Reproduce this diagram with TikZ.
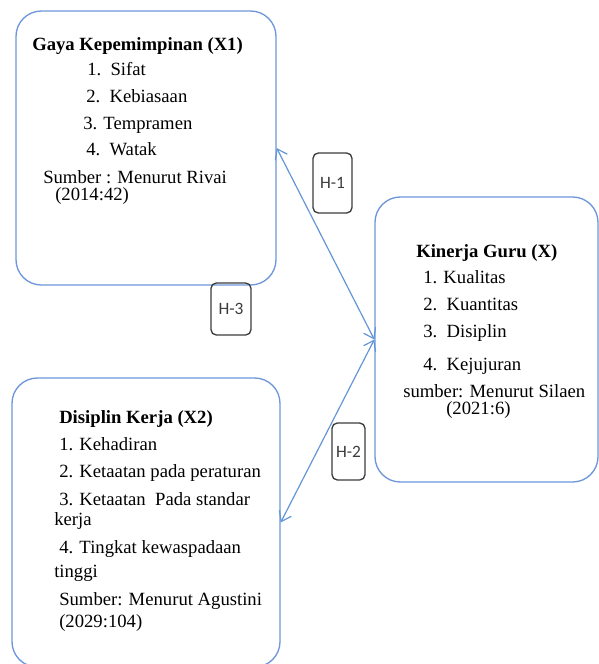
\documentclass[tikz,border=0pt]{standalone}
\usepackage{fontspec}
\setmainfont{Liberation Serif}
\newfontfamily\hfont{Carlito}
\usetikzlibrary{arrows.meta}
\definecolor{boxblue}{RGB}{110,150,218}
\definecolor{hgray}{RGB}{60,60,60}
\definecolor{arrblue}{RGB}{100,150,215}
\tikzset{
  bluebox/.style={draw=boxblue, line width=1pt, rounded corners=19pt, inner sep=0pt},
  hbox/.style={draw=hgray, line width=1pt, rounded corners=4pt, inner sep=0pt, font=\hfont\fontsize{13}{15}\selectfont, text=hgray},
  txt/.style={anchor=base west, inner sep=0pt, font=\fontsize{14}{16}\selectfont},
  btxt/.style={txt, font=\fontsize{14}{16}\selectfont\bfseries},
  arr/.style={draw=arrblue, line width=0.9pt, {Straight Barb[length=7pt,width=10pt]}-{Straight Barb[length=7pt,width=10pt]}}
}
\begin{document}
\begin{tikzpicture}[x=0.75pt,y=-0.75pt]
\useasboundingbox (0,0) rectangle (599,664);
% boxes
\node[bluebox, minimum width=195pt, minimum height=205.5pt] (b1) at (146,148) {};
\node[bluebox, minimum width=167.25pt, minimum height=213.75pt] (kin) at (486.5,339.5) {};
\node[bluebox, minimum width=201pt, minimum height=216.75pt] (b3) at (146,522.5) {};
% connectors
\draw[arr] (b1.east) -- (kin.west);
\draw[arr] (kin.west) -- (b3.east);
% H labels
\node[hbox, minimum width=29.25pt, minimum height=45pt] (h1) at (332.5,183) {H-1};
\node[hbox, minimum width=30pt, minimum height=39pt] (h3) at (231,309) {H-3};
\node[hbox, minimum width=24.75pt, minimum height=42.75pt] (h2) at (348.5,451.5) {H-2};
% box 1 text
\node[btxt] (t1a) at (32,50) {Gaya Kepemimpinan (X1)};
\node[txt] (t1b) at (87,75) {1.\ \ Sifat};
\node[txt] (t1c) at (86,102) {2.\ \ Kebiasaan};
\node[txt] (t1d) at (83,129) {3. Tempramen};
\node[txt] (t1e) at (86,155) {4.\ \ Watak};
\node[txt] (t1f) at (43,183) {Sumber : Menurut Rivai};
\node[txt] (t1g) at (55,200) {(2014:42)};
% kinerja text
\node[btxt] (tka) at (416,257) {Kinerja Guru (X)};
\node[txt] (tkb) at (423,283) {1. Kualitas};
\node[txt] (tkc) at (423,310) {2.\ \ Kuantitas};
\node[txt] (tkd) at (423,337) {3.\ \ Disiplin};
\node[txt] (tke) at (423,370) {4.\ \ Kejujuran};
\node[txt] (tkf) at (403,397) {sumber: Menurut Silaen};
\node[txt] (tkg) at (446,414) {(2021:6)};
% box 3 text
\node[btxt] (t3a) at (59,423) {Disiplin Kerja (X2)};
\node[txt] (t3b) at (59,450) {1. Kehadiran};
\node[txt] (t3c) at (59,477) {2. Ketaatan pada peraturan};
\node[txt] (t3d) at (59,505) {3. Ketaatan\ \ Pada standar};
\node[txt] (t3e) at (54,525) {kerja};
\node[txt] (t3f) at (59,553) {4. Tingkat kewaspadaan};
\node[txt] (t3g) at (54,577) {tinggi};
\node[txt] (t3h) at (59,605) {Sumber: Menurut Agustini};
\node[txt] (t3i) at (59,627) {(2029:104)};
\end{tikzpicture}
\end{document}
